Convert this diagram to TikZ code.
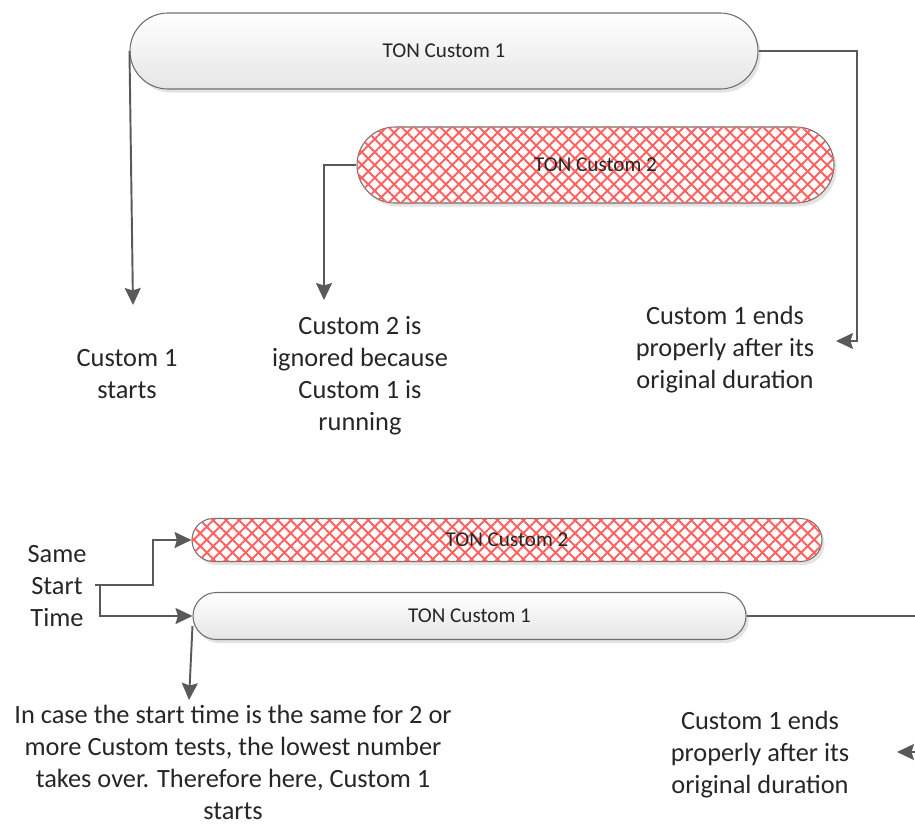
\documentclass[tikz,border=0pt]{standalone}
\usepackage{fontspec}
\setmainfont{Carlito}
\usetikzlibrary{arrows.meta, patterns.meta, shadows}
\definecolor{ctext}{HTML}{262626}
\definecolor{cline}{HTML}{595959}
\definecolor{cedge}{HTML}{6E6E6E}
\definecolor{chatch}{HTML}{FF6060}
\tikzset{
  every picture/.style={line width=1.1pt},
  bar/.style={draw=cedge, line width=0.6pt, rounded corners=#1, top color=white, bottom color=black!10,
    text=ctext, font=\fontsize{12}{14}\selectfont, inner sep=0pt,
    drop shadow={opacity=0.22, shadow xshift=1.5pt, shadow yshift=-2pt}},
  hatchbar/.style={draw=cedge, line width=0.6pt, rounded corners=#1, fill=white,
    text=ctext, font=\fontsize{12}{14}\selectfont, inner sep=0pt,
    drop shadow={opacity=0.22, shadow xshift=1.5pt, shadow yshift=-2pt},
    postaction={pattern={Lines[angle=45, distance=5.2pt, line width=1.1pt]}, pattern color=chatch},
    postaction={pattern={Lines[angle=-45, distance=5.2pt, line width=1.1pt]}, pattern color=chatch}},
  arrow/.style={-{Stealth[length=0.34cm, width=0.32cm, inset=0.05cm]}, draw=cline},
  note/.style={font=\fontsize{15}{18.2}\selectfont, text=ctext, align=center},
}
\begin{document}
\begin{tikzpicture}
  \useasboundingbox (0,0) rectangle (18.3,-16.48);
  % upper case: Custom 2 starts while Custom 1 runs
  \node[bar=0.76cm, minimum width=12.56cm, minimum height=1.52cm] (c1) at (8.88,-1.02) {TON Custom 1};
  \node[hatchbar=0.76cm, minimum width=9.54cm, minimum height=1.52cm] (c2) at (11.91,-3.30) {TON Custom 2};
  \node[note] (starts) at (2.54,-7.48) {Custom 1\\starts};
  \node[note] (ignored) at (7.2,-7.52) {Custom 2 is\\ignored because\\Custom 1 is\\running};
  \node[note] (ends) at (14.5,-7.0) {Custom 1 ends\\properly after its\\original duration};
  \coordinate (p1) at (2.66,-6.1);
  \coordinate (p2) at (6.48,-6.0);
  \coordinate (p3) at (17.14,-6.82);
  \coordinate (p4) at (16.72,-6.82);
  \draw[arrow] (c1.west) -- (p1);
  \draw[arrow] (c2.west) -| (p2);
  \draw[arrow, line width=0.8pt] (c1.east) -| (p3) -- (p4);
  % lower case: same start time
  \node[hatchbar=0.43cm, minimum width=12.6cm, minimum height=0.86cm] (b2) at (10.14,-10.80) {TON Custom 2};
  \node[bar=0.47cm, minimum width=11.06cm, minimum height=0.94cm] (b1) at (9.39,-12.32) {TON Custom 1};
  \node[note] (same) at (1.14,-11.72) {Same\\Start\\Time};
  \node[note] (incase) at (4.66,-15.25) {In case the start time is the same for 2 or\\more Custom tests, the lowest number\\takes over. Therefore here, Custom 1\\starts};
  \node[note] (ends2) at (15.2,-15.1) {Custom 1 ends\\properly after its\\original duration};
  \coordinate (s0) at (1.9,-11.7);
  \coordinate (s1) at (2.0,-11.7);
  \coordinate (s2) at (3.06,-11.7);
  \coordinate (q1) at (3.78,-14.0);
  \coordinate (r1) at (18.3,-12.32);
  \coordinate (r2) at (18.3,-15.04);
  \coordinate (r3) at (17.94,-15.04);
  \draw[arrow] (s0) -- (s2) |- (b2.west);
  \draw[arrow] (s1) |- (b1.west);
  \draw[arrow] ([yshift=-0.2cm]b1.west) -- (q1);
  \draw[cline, line width=0.8pt] (b1.east) -- (r1);
  \draw[arrow, line width=0.8pt] (r2) -- (r3);
\end{tikzpicture}
\end{document}
